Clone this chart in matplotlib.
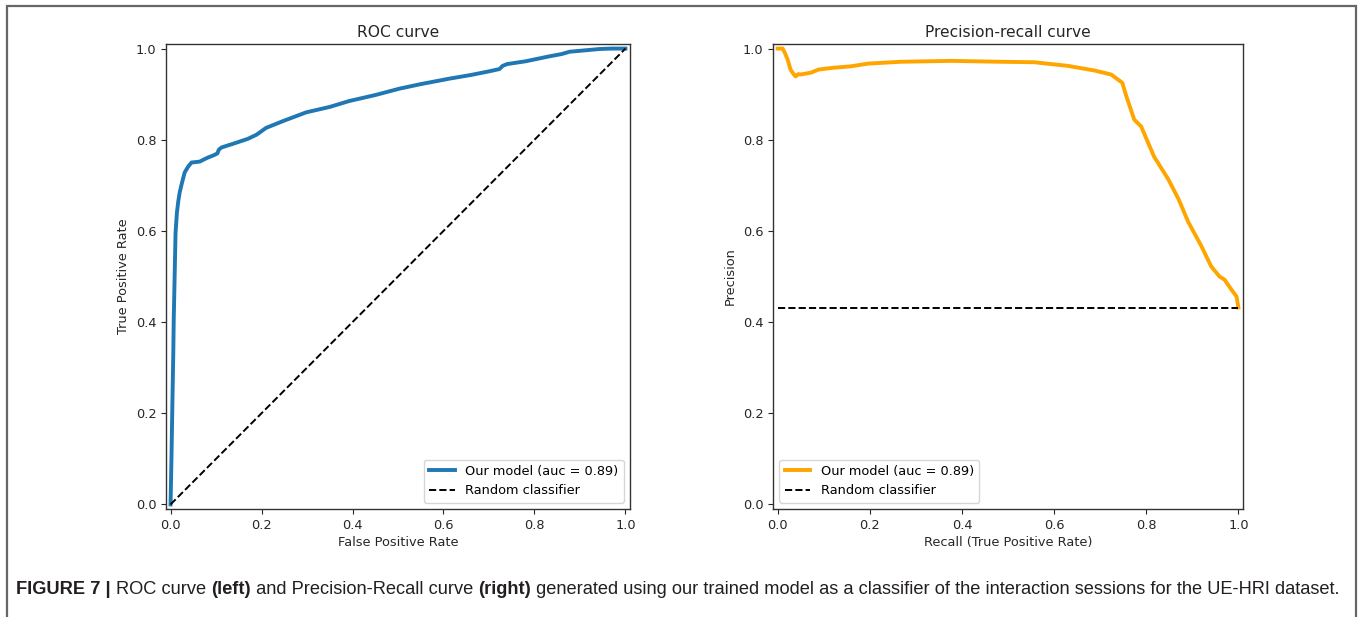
import matplotlib
matplotlib.use("Agg")
import matplotlib.pyplot as plt
from matplotlib import font_manager
from matplotlib.patches import Rectangle

# ---------------- data ----------------
roc_fpr = [0.0, 0.002, 0.004, 0.006, 0.007, 0.009, 0.011, 0.014, 0.017, 0.020, 0.025,
           0.031, 0.038, 0.046, 0.055, 0.064, 0.080, 0.095, 0.103, 0.106, 0.112, 0.14,
           0.17, 0.189, 0.21, 0.25, 0.298, 0.35, 0.393, 0.45, 0.503, 0.55, 0.613,
           0.66, 0.70, 0.723, 0.730, 0.740, 0.78, 0.833, 0.86, 0.877, 0.91, 0.943,
           0.97, 1.0]
roc_tpr = [0.0, 0.10, 0.22, 0.33, 0.406, 0.50, 0.596, 0.64, 0.665, 0.684, 0.705,
           0.728, 0.740, 0.750, 0.751, 0.752, 0.760, 0.766, 0.770, 0.778, 0.783, 0.792,
           0.802, 0.811, 0.826, 0.842, 0.860, 0.872, 0.885, 0.898, 0.912, 0.922, 0.934,
           0.942, 0.950, 0.955, 0.962, 0.966, 0.972, 0.983, 0.988, 0.993, 0.996, 0.999,
           1.0, 1.0]

pr_recall = [0.0, 0.011, 0.016, 0.022, 0.028, 0.034, 0.039, 0.045, 0.050, 0.060, 0.072,
             0.089, 0.122, 0.159, 0.196, 0.267, 0.376, 0.485, 0.557, 0.630, 0.687,
             0.724, 0.748, 0.757, 0.774, 0.789, 0.817, 0.848, 0.870, 0.891, 0.920,
             0.941, 0.959, 0.970, 0.985, 0.996, 1.0]
pr_precision = [1.0, 1.0, 0.99, 0.975, 0.954, 0.945, 0.939, 0.944, 0.943, 0.945, 0.947,
                0.954, 0.958, 0.961, 0.967, 0.971, 0.973, 0.971, 0.970, 0.962, 0.952,
                0.943, 0.925, 0.895, 0.844, 0.829, 0.763, 0.713, 0.670, 0.620, 0.566,
                0.522, 0.500, 0.493, 0.471, 0.456, 0.432]
pr_baseline = 0.432

diag = [0.0, 1.0]
model_label = "Our model (auc = 0.89)"
random_label = "Random classifier"
axis_ticks = [0.0, 0.2, 0.4, 0.6, 0.8, 1.0]

# ---------------- figure ----------------
W, H = 1358, 617
fig = plt.figure(figsize=(W / 100, H / 100), dpi=100)
fig.patch.set_facecolor("white")

txt_col = "#262626"
fs_tick = 9.3

def style_axes(ax):
    ax.set_xlim(-0.01, 1.01)
    ax.set_ylim(-0.01, 1.01)
    ax.set_xticks(axis_ticks)
    ax.set_yticks(axis_ticks)
    ax.set_xticklabels([f"{t:.1f}" for t in axis_ticks])
    ax.set_yticklabels([f"{t:.1f}" for t in axis_ticks])
    ax.tick_params(labelsize=fs_tick, colors=txt_col, length=3.5)
    for s in ax.spines.values():
        s.set_color("#333333")
        s.set_linewidth(1.0)

# left axes: pixel box 166..630 x, 44..509 y
ax1 = fig.add_axes([166 / W, 1 - 509 / H, 464 / W, 465 / H])
ax1.plot(roc_fpr, roc_tpr, color="#1f77b4", lw=2.8, label=model_label)
ax1.plot(diag, diag, color="black", ls="--", lw=1.4, label=random_label)
style_axes(ax1)
ax1.set_title("ROC curve", fontsize=11.2, color=txt_col, pad=5)
ax1.set_xlabel("False Positive Rate", fontsize=fs_tick, color=txt_col, labelpad=3)
ax1.set_ylabel("True Positive Rate", fontsize=fs_tick, color=txt_col, labelpad=4)
ax1.legend(loc="lower right", fontsize=fs_tick, framealpha=0.8)

# right axes
ax2 = fig.add_axes([773 / W, 1 - 509 / H, 470 / W, 465 / H])
ax2.plot(pr_recall, pr_precision, color="orange", lw=2.8, label=model_label)
ax2.plot(diag, [pr_baseline, pr_baseline], color="black", ls="--", lw=1.4,
         label=random_label)
style_axes(ax2)
ax2.set_title("Precision-recall curve", fontsize=11.2, color=txt_col, pad=5)
ax2.set_xlabel("Recall (True Positive Rate)", fontsize=fs_tick, color=txt_col, labelpad=3)
ax2.set_ylabel("Precision", fontsize=fs_tick, color=txt_col, labelpad=4)
ax2.legend(loc="lower left", fontsize=fs_tick, framealpha=0.8)

# outer border
fig.add_artist(Rectangle((7 / W, -0.05), (1356 - 7) / W, 1.05 - 6 / H,
                         transform=fig.transFigure, fill=False,
                         edgecolor="#666666", lw=1.6))

# ---------------- caption ----------------
names = {f.name for f in font_manager.fontManager.ttflist}
cap_family = "Liberation Sans Narrow" if "Liberation Sans Narrow" in names else "Liberation Sans"

caption_parts = [
    ("FIGURE 7 | ", "bold"),
    ("ROC curve ", "normal"),
    ("(left)", "bold"),
    (" and Precision-Recall curve ", "normal"),
    ("(right)", "bold"),
    (" generated using our trained model as a classifier of the interaction "
     "sessions for the UE-HRI dataset.", "normal"),
]
cap_x0, cap_x1, cap_y = 16, 1340, 590
cap_col = "#231f20"

def draw_caption(fs):
    arts = []
    fig.canvas.draw()
    r = fig.canvas.get_renderer()
    x = cap_x0
    for s, w in caption_parts:
        t = fig.text(x / W, 1 - cap_y / H, s, fontsize=fs, fontweight=w,
                     family=cap_family, color=cap_col, va="center", ha="left")
        bb = t.get_window_extent(renderer=r)
        x += bb.width
        arts.append(t)
    return arts, x

fs_cap = 12.0
arts, xend = draw_caption(fs_cap)
scale = (cap_x1 - cap_x0) / (xend - cap_x0)
for a in arts:
    a.remove()
arts, xend = draw_caption(fs_cap * scale)

fig.savefig("out.png", dpi=100, facecolor="white")
